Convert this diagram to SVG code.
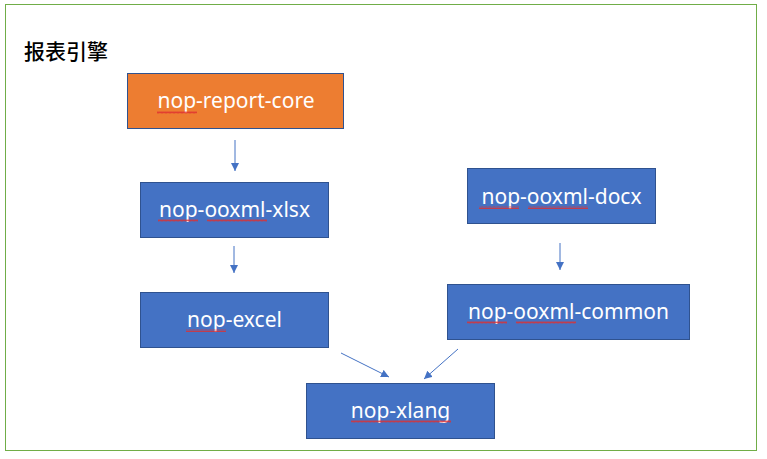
<svg xmlns="http://www.w3.org/2000/svg" width="767" height="459" viewBox="0 0 767 459">
<style>
.box{fill:#4472C4;stroke:#2F528F;stroke-width:1}
.core{fill:#ED7D31;stroke:#2F528F;stroke-width:1}
.lbl{font-family:"Noto Sans","Liberation Sans",sans-serif;font-size:21px;fill:#ffffff;text-anchor:middle}
.edge{stroke:#4472C4;stroke-width:1;fill:none;marker-end:url(#arr)}
.sq{fill:url(#squig)}
</style>
<defs>
<marker id="arr" viewBox="0 0 10 10" refX="10" refY="5" markerWidth="8" markerHeight="8" markerUnits="userSpaceOnUse" orient="auto">
<path d="M0,0 L10,5 L0,10 z" fill="#4472C4"/>
</marker>
<pattern id="squig" width="4" height="3" patternUnits="userSpaceOnUse">
<path d="M0,2.5 L1,0.5 L2,2.5 L3,0.5 L4,2.5" stroke="#E03030" stroke-width="0.8" fill="none"/>
</pattern>
</defs>
<rect x="0" y="0" width="767" height="459" fill="#ffffff"/>
<rect x="5.5" y="4.5" width="751" height="446" fill="none" stroke="#70AD47" stroke-width="1"/>
<text x="24" y="59" font-family="'Noto Sans CJK SC',sans-serif" font-size="21" font-weight="500" fill="#000000">报表引擎</text>
<g id="connectors">
<path class="edge" d="M235,140 L235,171"/>
<path class="edge" d="M234,246 L234,273"/>
<path class="edge" d="M560,243 L560,270"/>
<path class="edge" d="M341,353 L389,377"/>
<path class="edge" d="M458,349 L424,379"/>
</g>
<g id="n-core">
<rect class="core" x="127.5" y="73.5" width="216" height="55"/>
<text class="lbl" x="236" y="108">nop-report-core</text>
<rect class="sq" x="157" y="111" width="40" height="3"/>
</g>
<g id="n-xlsx">
<rect class="box" x="140.5" y="182.5" width="188" height="55"/>
<text class="lbl" x="234.5" y="217">nop-ooxml-xlsx</text>
<rect class="sq" x="158" y="219" width="40" height="3"/>
<rect class="sq" x="207" y="219" width="60" height="3"/>
</g>
<g id="n-excel">
<rect class="box" x="140.5" y="292.5" width="188" height="55"/>
<text class="lbl" x="234.5" y="327">nop-excel</text>
<rect class="sq" x="186" y="329" width="40" height="3"/>
</g>
<g id="n-xlang">
<rect class="box" x="306.5" y="383.5" width="188" height="55"/>
<text class="lbl" x="400.5" y="418">nop-xlang</text>
<rect class="sq" x="351" y="420" width="100" height="3"/>
</g>
<g id="n-docx">
<rect class="box" x="467.5" y="168.5" width="188" height="55"/>
<text class="lbl" x="561.5" y="204">nop-ooxml-docx</text>
<rect class="sq" x="479" y="206" width="40" height="3"/>
<rect class="sq" x="528" y="206" width="60" height="3"/>
</g>
<g id="n-common">
<rect class="box" x="447.5" y="284.5" width="242" height="55"/>
<text class="lbl" x="568.5" y="319">nop-ooxml-common</text>
<rect class="sq" x="467" y="321" width="40" height="3"/>
<rect class="sq" x="516" y="321" width="60" height="3"/>
</g>
</svg>
